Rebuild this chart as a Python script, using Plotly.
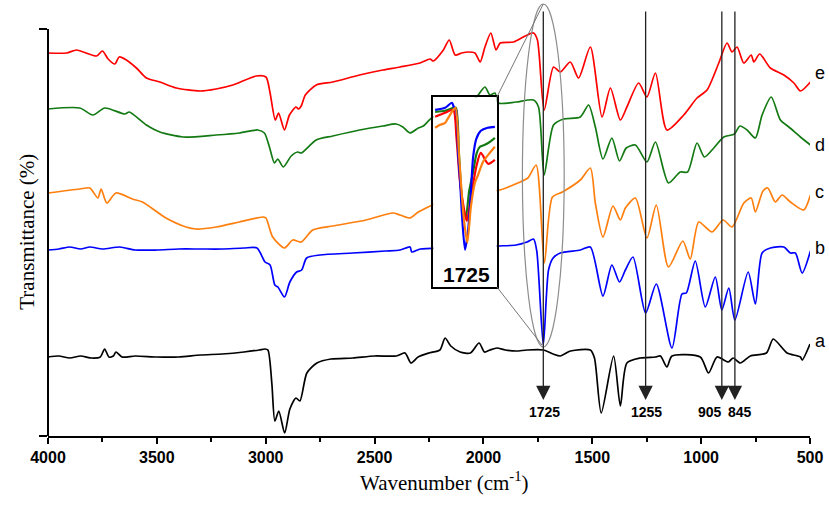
import plotly.graph_objects as go

# main spectra (arbitrary transmittance units, curves offset)
wn_a = [4000, 3950, 3900, 3850, 3800, 3760, 3740, 3720, 3700, 3688, 3660, 3600, 3500, 3400, 3300, 3200, 3100,
        3030, 3004, 2990, 2972, 2958, 2940, 2913, 2889, 2861, 2843, 2811, 2765, 2700, 2600, 2500, 2400, 2360,
        2333, 2300, 2250, 2200, 2176, 2150, 2107, 2060, 2020, 1995, 1970, 1938, 1900, 1850, 1800, 1725, 1680,
        1647, 1600, 1509, 1490, 1459, 1402, 1371, 1341, 1279, 1210, 1187, 1157, 1134, 1004, 966, 927, 875,
        853, 820, 774, 700, 669, 605, 544, 536, 500]
t_a = [79, 80, 78, 80, 78, 79, 87, 79, 80, 84, 79, 80, 79, 79, 81, 82, 84,
       86, 87, 86, 53, 15, 25, 3, 27, 38, 35, 63, 73, 77, 78, 80, 80, 83,
       73, 79, 83, 86, 98, 90, 84, 83, 93, 84, 86, 88, 86, 85, 86, 86, 82,
       80, 85, 86, 78, 23, 80, 30, 73, 78, 79, 80, 69, 80, 79, 63, 79, 74,
       78, 73, 80, 83, 97, 83, 79, 76, 92]

wn_b = [4000, 3950, 3900, 3850, 3808, 3750, 3670, 3600, 3500, 3400, 3300, 3200, 3100, 3040, 3003, 2980, 2958,
        2944, 2914, 2889, 2858, 2835, 2812, 2751, 2600, 2450, 2383, 2337, 2329, 2290, 2200, 2100, 2000, 1937,
        1850, 1800, 1770, 1755, 1725, 1701, 1680, 1647, 1555, 1509, 1451, 1410, 1375, 1348, 1313, 1255, 1206,
        1134, 1088, 1068, 1027, 981, 935, 905, 873, 845, 784, 751, 720, 682, 620, 590, 567, 536, 498]
t_b = [186, 187, 189, 187, 189, 187, 189, 186, 186, 187, 187, 187, 188, 188, 174, 171, 151,
       149, 139, 154, 164, 166, 178, 181, 183, 185, 186, 189, 184, 187, 188, 188, 189, 190,
       191, 194, 197, 185, 91, 166, 178, 183, 186, 189, 140, 171, 154, 166, 179, 123, 152,
       88, 142, 143, 175, 129, 159, 126, 148, 116, 164, 132, 183, 188, 189, 183, 183, 163, 185]

wn_c = [4000, 3854, 3808, 3771, 3756, 3730, 3688, 3612, 3566, 3458, 3366, 3320, 3228, 3121, 3014, 2999, 2968,
        2914, 2876, 2837, 2784, 2692, 2539, 2416, 2383, 2337, 2299, 2200, 2100, 2000, 1926, 1842, 1796, 1758,
        1720, 1683, 1637, 1555, 1509, 1486, 1451, 1405, 1371, 1348, 1302, 1249, 1206, 1150, 1084, 1050, 1011,
        950, 899, 858, 804, 770, 751, 716, 694, 659, 628, 590, 529, 498]
t_c = [243, 247, 248, 238, 247, 233, 243, 237, 234, 218, 209, 207, 209, 214, 219, 218, 199,
       188, 196, 194, 206, 210, 216, 223, 221, 218, 224, 234, 240, 244, 246, 253, 258, 271,
       173, 239, 244, 256, 268, 233, 199, 230, 216, 228, 238, 198, 231, 169, 195, 177, 214,
       204, 216, 209, 233, 238, 224, 245, 248, 234, 241, 234, 226, 241]

wn_d = [4000, 3854, 3794, 3739, 3647, 3627, 3548, 3486, 3380, 3228, 3121, 3036, 3006, 2983, 2960, 2945, 2919,
        2883, 2853, 2837, 2768, 2692, 2569, 2462, 2401, 2370, 2337, 2299, 2276, 2238, 2150, 2060, 2031, 1993,
        1970, 1947, 1932, 1850, 1770, 1747, 1721, 1678, 1632, 1555, 1517, 1486, 1451, 1410, 1375, 1344, 1302,
        1249, 1210, 1150, 1096, 1062, 1019, 985, 942, 896, 847, 822, 789, 751, 720, 678, 636, 597, 544, 498]
t_d = [327, 328, 321, 328, 322, 324, 311, 304, 299, 301, 303, 306, 303, 289, 273, 277, 269,
       280, 284, 283, 296, 300, 306, 310, 312, 309, 303, 308, 310, 318, 326, 334, 339, 349,
       341, 343, 333, 334, 336, 329, 261, 311, 317, 319, 331, 309, 277, 298, 275, 288, 291,
       274, 294, 253, 264, 264, 293, 279, 288, 299, 302, 310, 306, 298, 321, 339, 316, 309, 299, 291]

wn_e = [4000, 3915, 3869, 3777, 3750, 3724, 3693, 3673, 3640, 3594, 3548, 3486, 3410, 3302, 3228, 3151, 3044,
        2999, 2980, 2956, 2941, 2914, 2891, 2861, 2849, 2837, 2818, 2768, 2692, 2569, 2462, 2383, 2291, 2245,
        2230, 2184, 2157, 2130, 2100, 2069, 2039, 2015, 1993, 1966, 1942, 1923, 1862, 1808, 1770, 1752, 1721,
        1678, 1647, 1601, 1563, 1509, 1455, 1417, 1371, 1341, 1287, 1249, 1210, 1157, 1080, 1019, 973, 919,
        881, 858, 835, 804, 770, 758, 731, 682, 620, 574, 544, 498]
t_e = [383, 383, 386, 380, 385, 377, 372, 379, 376, 368, 358, 354, 348, 345, 347, 351, 360,
       359, 343, 316, 323, 306, 321, 329, 327, 330, 341, 351, 354, 361, 366, 369, 373, 377,
       375, 386, 396, 381, 383, 384, 383, 374, 389, 403, 386, 393, 394, 400, 403, 396, 326,
       369, 364, 374, 358, 389, 319, 348, 316, 329, 353, 339, 363, 306, 321, 338, 346, 373,
       393, 384, 389, 373, 381, 374, 382, 368, 361, 353, 345, 354]

# inset: carbonyl band around 1725, curves overlaid
ins_wn_b = [1791, 1769, 1754, 1749, 1745, 1740, 1736, 1732, 1725, 1718, 1712, 1707, 1700, 1690, 1675, 1659]
ins_t_b = [177, 179, 184, 179, 177, 132, 107, 74, 37, 57, 95, 130, 148, 156, 159, 160]
ins_wn_c = [1791, 1780, 1769, 1762, 1751, 1746, 1738, 1728, 1720, 1712, 1703, 1696, 1685, 1670, 1659]
ins_t_c = [159, 162, 164, 169, 177, 179, 130, 70, 44, 80, 104, 112, 125, 134, 140]
ins_wn_d = [1791, 1769, 1751, 1745, 1738, 1730, 1723, 1716, 1707, 1699, 1692, 1681, 1670, 1659]
ins_t_d = [175, 176, 179, 179, 130, 80, 70, 95, 115, 134, 140, 142, 145, 149]
ins_wn_e = [1791, 1769, 1751, 1744, 1735, 1721, 1712, 1699, 1690, 1674, 1659]
ins_t_e = [170, 174, 177, 150, 100, 66, 90, 122, 134, 123, 127]

peaks = [1725, 1255, 905, 845]
peak_label_x = [1721, 1249, 961, 823]
curve_labels = ["a", "b", "c", "d", "e"]
curve_label_y = [95, 188, 244, 291, 363]

RED = "#ff0000"
GREEN = "#137a13"
ORANGE = "#ff7f0e"
BLUE = "#0000ff"

fig = go.Figure()

for wn, t, col in [(wn_e, t_e, RED), (wn_d, t_d, GREEN), (wn_c, t_c, ORANGE),
                   (wn_b, t_b, BLUE), (wn_a, t_a, "black")]:
    fig.add_trace(go.Scatter(x=wn, y=t, mode='lines', showlegend=False,
                             line=dict(color=col, width=1.7, shape='spline', smoothing=0.7)))

for wn, t, col in [(ins_wn_d, ins_t_d, GREEN), (ins_wn_e, ins_t_e, RED),
                   (ins_wn_b, ins_t_b, BLUE), (ins_wn_c, ins_t_c, ORANGE)]:
    fig.add_trace(go.Scatter(x=wn, y=t, mode='lines', showlegend=False, xaxis='x2', yaxis='y2',
                             line=dict(color=col, width=2.2, shape='spline', smoothing=0.7)))

serif = "Times New Roman, Liberation Serif, serif"
sans = "Arial, Liberation Sans, sans-serif"

annotations = []
for p, lx in zip(peaks, peak_label_x):
    annotations.append(dict(x=p, y=36, ax=p, ay=426, xref='x', yref='y', axref='x', ayref='y',
                            text='', showarrow=True, arrowhead=2, arrowsize=2.2, arrowwidth=1.3,
                            arrowcolor='#222'))
    annotations.append(dict(x=lx, y=24, xref='x', yref='y', text=str(p), showarrow=False,
                            font=dict(family=sans, size=14, color='black', weight='bold')))
for lab, ly in zip(curve_labels, curve_label_y):
    annotations.append(dict(x=500, y=ly, xref='x', yref='y', text=lab, showarrow=False,
                            xanchor='left', xshift=3, font=dict(family=sans, size=18, color='black')))
annotations.append(dict(x=1721, y=12, xref='x2', yref='y2', text='1725', showarrow=False,
                        font=dict(family=sans, size=21, color='black', weight='bold')))
annotations.append(dict(x=-0.047, y=0.471, xref='paper', yref='paper', text='Transmittance (%)',
                        textangle=-90, showarrow=False,
                        font=dict(family=serif, size=21, color='black')))
annotations.append(dict(x=0.52, y=-0.14, xref='paper', yref='paper',
                        text='Wavenumber (cm<sup>-1</sup>)', showarrow=False,
                        font=dict(family=serif, size=21, color='black')))

shapes = [
    dict(type='circle', xref='x', yref='y', x0=1821, x1=1629, y0=89, y1=432,
         line=dict(color='#8c8c8c', width=1.2)),
    dict(type='line', xref='x', yref='y', x0=1938, y0=339, x1=1725, y1=432,
         line=dict(color='#777', width=1)),
    dict(type='line', xref='x', yref='y', x0=1938, y0=149, x1=1731, y1=91,
         line=dict(color='#777', width=1)),
    dict(type='line', xref='paper', yref='y', x0=0, x1=0, y0=0, y1=407,
         line=dict(color='black', width=2)),
]

fig.update_layout(
    width=829, height=509,
    margin=dict(l=48, r=19, t=2, b=73),
    paper_bgcolor='white', plot_bgcolor='white',
    showlegend=False,
    annotations=annotations,
    shapes=shapes,
    xaxis=dict(range=[4000, 500], showline=True, linecolor='black', linewidth=2,
               ticks='outside', ticklen=6, tickwidth=1.5, tickcolor='black',
               tick0=500, dtick=500, showgrid=False, zeroline=False,
               minor=dict(ticks='outside', ticklen=4, tickwidth=1.5, tickcolor='black', dtick=250),
               tickfont=dict(family=sans, size=16, color='black', weight='bold')),
    yaxis=dict(range=[0, 434], showline=False, showgrid=False, zeroline=False,
               tickvals=[0, 407], ticks='outside', ticklen=8, tickwidth=2, tickcolor='black',
               showticklabels=False),
    xaxis2=dict(domain=[0.5057, 0.5888], anchor='y2', range=[1795, 1655],
                showline=True, mirror=True, linecolor='black', linewidth=1.5,
                showgrid=False, zeroline=False, showticklabels=False, ticks=''),
    yaxis2=dict(domain=[0.344, 0.7804], anchor='x2', range=[0, 189.5],
                showline=True, mirror=True, linecolor='black', linewidth=1.5,
                showgrid=False, zeroline=False, showticklabels=False, ticks=''),
)

# the page body has a default 8px margin; drop it so the figure fills the window
fig.write_html("out.html", config={'displayModeBar': False},
               post_script="document.body.style.margin='0';")
